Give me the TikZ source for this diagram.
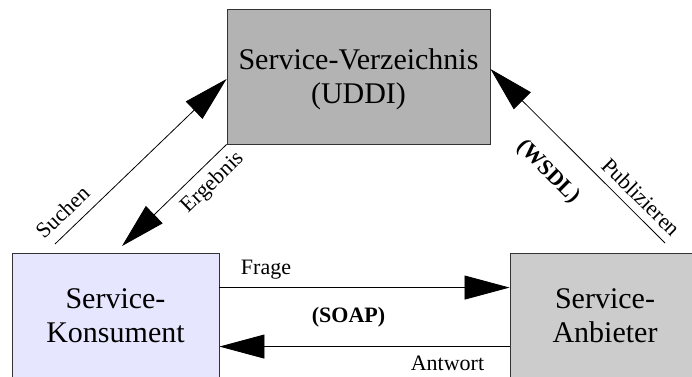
\documentclass[tikz,border=0pt]{standalone}
\usepackage{fontspec}
\setmainfont{Liberation Serif}
\usetikzlibrary{arrows.meta,calc}
\definecolor{uddigray}{HTML}{B3B3B3}
\definecolor{konsfill}{HTML}{E6E6FF}
\definecolor{anbfill}{HTML}{CCCCCC}
\begin{document}
\begin{tikzpicture}[x=1pt,y=-1pt,
  box/.style={draw=black!80, line width=0.9pt, inner sep=0pt, align=center,
    font=\fontsize{30}{34}\selectfont},
  boxtxt/.style={inner sep=0pt, align=center, font=\fontsize{30}{34}\selectfont},
  lbl/.style={inner sep=0pt, font=\fontsize{22}{26}\selectfont},
  boldlbl/.style={inner sep=0pt, font=\fontsize{22}{26}\selectfont\bfseries},
  conn/.style={line width=0.8pt, -{Triangle[length=45pt,width=24pt]}},
]
\useasboundingbox (0,0) rectangle (692,376);
\begin{scope}
\clip (0,0) rectangle (692,376);
\node[box, fill=uddigray, minimum width=263pt, minimum height=135pt] (uddi) at (358.5,76.5) {};
\node[boxtxt] (udditxt) at ([yshift=-3pt]uddi.center) {Service-Verzeichnis\\(UDDI)};
\node[box, fill=konsfill, minimum width=207pt, minimum height=126pt] (kons) at (115.5,316) {Service-\\Konsument};
\node[box, fill=anbfill, minimum width=190pt, minimum height=126pt] (anb) at (605,316) {Service-\\Anbieter};
\end{scope}
% connectors
\coordinate (s1) at (55,244);
\coordinate (e2) at (122,246);
\coordinate (p1) at (665,243);
\draw[conn] (s1) -- ([yshift=-2.5pt]uddi.west);
\draw[conn] (uddi.south west) -- (e2);
\draw[conn] (p1) -- ([yshift=7.5pt]uddi.east);
\draw[conn] ([yshift=-35pt]kons.north east) -- ([yshift=-35pt]anb.north west);
\draw[conn] ([yshift=-94pt]anb.north west) -- ([yshift=-94pt]kons.north east);
% labels
\node[lbl, anchor=base] (lfrage) at (266,274) {Frage};
\node[boldlbl, anchor=base] (lsoap) at (348.5,322) {(SOAP)};
\node[lbl, anchor=base] (lantw) at (447.5,370) {Antwort};
\node[lbl, rotate=43.8] (lsuchen) at (63,212) {Suchen};
\node[lbl, rotate=44.2] (lergeb) at (213,183) {Ergebnis};
\node[boldlbl, rotate=-45] (lwsdl) at (548,172) {(WSDL)};
\node[lbl, rotate=-44.8] (lpubl) at (641,197) {Publizieren};
\end{tikzpicture}
\end{document}
